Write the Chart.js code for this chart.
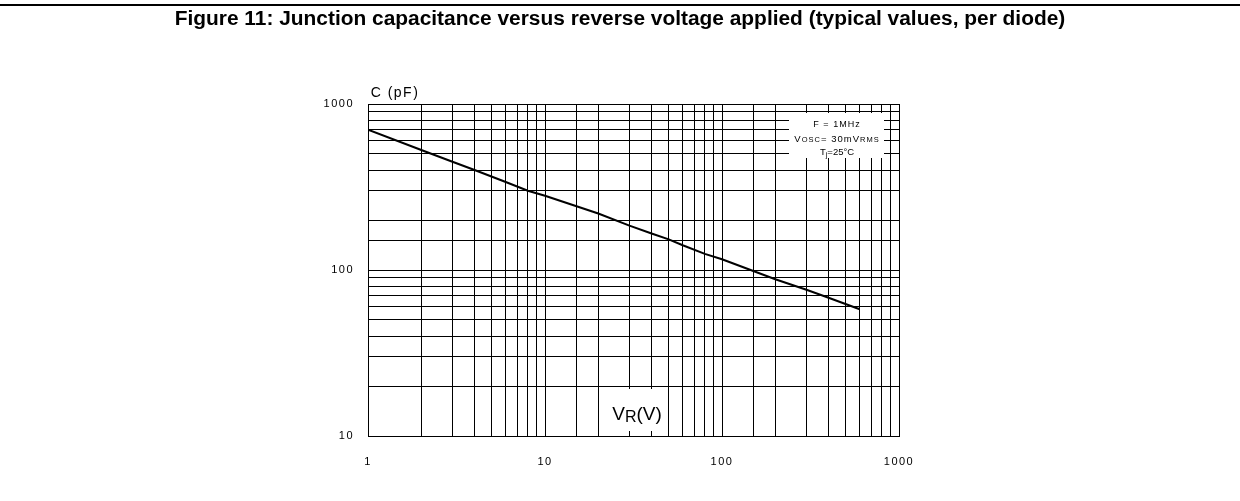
<!DOCTYPE html>
<html>
<head>
<meta charset="utf-8">
<script src="https://cdn.jsdelivr.net/npm/chart.js@4.4.0/dist/chart.umd.min.js"></script>
<style>
  body { margin: 0; background: #fff; }
  #wrap { position: relative; width: 1240px; height: 501px; }
  #rule { position: absolute; left: 0; top: 4px; width: 1240px; height: 2px; background: #000; }
  #title { position: absolute; left: 0; top: 6px; width: 1240px; text-align: center;
           font: bold 20.9px "Liberation Sans", Arial, sans-serif; color: #000; }
  canvas { position: absolute; left: 0; top: 0; }
</style>
</head>
<body>
<div id="wrap">
  <canvas id="capChart" width="1240" height="501"></canvas>
  <div id="rule"></div>
  <div id="title">Figure 11: Junction capacitance versus reverse voltage applied (typical values, per diode)</div>
</div>
<script>
// reverse voltage (V) and junction capacitance (pF)
const voltages = [1, 2, 3, 4, 6, 8, 10, 20, 30, 40, 50, 60, 80, 100, 200, 300, 400, 600];
const capacitance = [700, 528, 449, 400, 339, 300, 280, 219, 185, 166, 153, 141, 125, 116, 88, 76, 68, 58];

const xTickLabels = [1, 10, 100, 1000];
const yTickLabels = [10, 100, 1000];

const FONT = '"Liberation Sans", Arial, sans-serif';

// draws a row of text pieces, each with its own size and baseline shift
function drawRuns(ctx, runs, cx, y) {
     let total = 0;
     runs.forEach(r => {
          ctx.font = r.size + 'px ' + FONT;
          total += ctx.measureText(r.text).width;
     });
     let x = cx - total / 2;
     runs.forEach(r => {
          ctx.font = r.size + 'px ' + FONT;
          ctx.fillText(r.text, x, y + (r.dy || 0));
          x += ctx.measureText(r.text).width;
     });
}

const annotations = {
     id: 'annotations',
     beforeDraw(chart) {
          chart.ctx.letterSpacing = '1.5px';
     },
     afterDraw(chart) {
          const ctx = chart.ctx;
          ctx.save();
          ctx.fillStyle = '#000';
          ctx.textAlign = 'left';
          ctx.textBaseline = 'alphabetic';

          // y axis name
          ctx.letterSpacing = '1.5px';
          drawRuns(ctx, [{ text: 'C (pF)', size: 14 }], 395, 97);

          // conditions box
          ctx.fillStyle = '#fff';
          ctx.fillRect(789, 113, 95, 45);
          ctx.fillStyle = '#000';
          ctx.letterSpacing = '1px';
          drawRuns(ctx, [{ text: 'F = 1MHz', size: 9 }], 837, 127);
          drawRuns(ctx, [
               { text: 'V', size: 9.5 },
               { text: 'OSC', size: 7.5 },
               { text: '= 30mV', size: 9.5 },
               { text: 'RMS', size: 7.5 }
          ], 837, 142);
          ctx.letterSpacing = '0px';
          drawRuns(ctx, [
               { text: 'T', size: 9.5 },
               { text: 'j', size: 7.5, dy: 2 },
               { text: '=25\u00B0C', size: 9.5 }
          ], 837, 155);

          // x axis name
          ctx.fillStyle = '#fff';
          ctx.fillRect(602, 389, 63, 42);
          ctx.fillStyle = '#000';
          ctx.letterSpacing = '0px';
          drawRuns(ctx, [
               { text: 'V', size: 19 },
               { text: 'R', size: 16, dy: 2 },
               { text: '(V)', size: 19 }
          ], 637, 420);
          ctx.restore();
          ctx.letterSpacing = '0px';
     }
};

const ctx = document.getElementById('capChart').getContext('2d');
new Chart(ctx, {
     type: 'scatter',
     data: {
          datasets: [{
               label: 'C',
               data: voltages.map((v, i) => ({ x: v, y: capacitance[i] })),
               showLine: true,
               borderColor: '#000',
               borderWidth: 2,
               pointRadius: 0,
               tension: 0
          }]
     },
     options: {
          responsive: false,
          animation: false,
          layout: {
               padding: { left: 0, top: 104, right: 341, bottom: 0 }
          },
          plugins: {
               legend: { display: false },
               tooltip: { enabled: false }
          },
          scales: {
               x: {
                    type: 'logarithmic',
                    min: 1,
                    max: 1000,
                    afterFit: function (scale) { scale.height = 65; },
                    border: { display: true, color: '#000', width: 1 },
                    grid: { color: '#000', lineWidth: 1, drawTicks: false },
                    ticks: {
                         autoSkip: false,
                         maxRotation: 0,
                         padding: 19,
                         color: '#000',
                         font: { family: FONT, size: 11 },
                         callback: function (value) {
                              return xTickLabels.includes(value) ? String(value) : '';
                         }
                    }
               },
               y: {
                    type: 'logarithmic',
                    min: 10,
                    max: 1000,
                    afterFit: function (scale) { scale.width = 368; },
                    border: { display: true, color: '#000', width: 1 },
                    grid: { color: '#000', lineWidth: 1, drawTicks: false },
                    ticks: {
                         autoSkip: false,
                         padding: 14,
                         color: '#000',
                         font: { family: FONT, size: 11 },
                         callback: function (value) {
                              return yTickLabels.includes(value) ? String(value) : '';
                         }
                    }
               }
          }
     },
     plugins: [annotations]
});
</script>
</body>
</html>
